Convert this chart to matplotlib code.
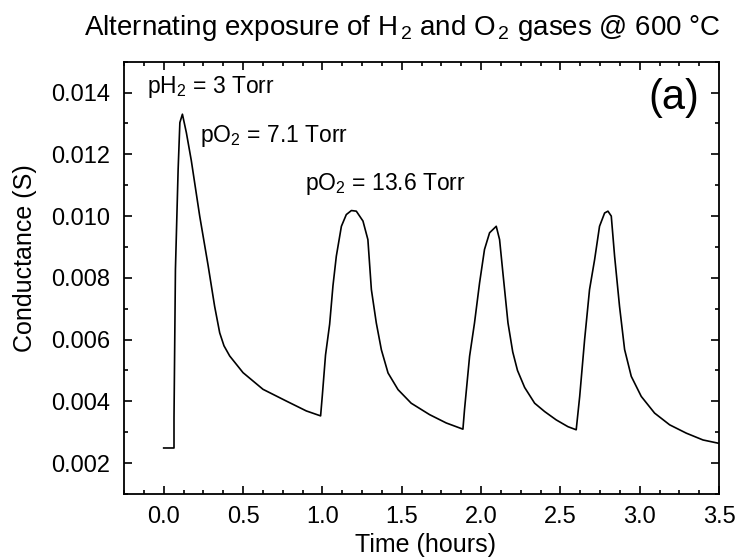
import matplotlib
matplotlib.use("Agg")
import matplotlib.pyplot as plt
from matplotlib.ticker import MultipleLocator, FormatStrFormatter

plt.rcParams['font.family'] = ['Liberation Sans', 'DejaVu Sans']
plt.rcParams['mathtext.fontset'] = 'custom'
plt.rcParams['mathtext.rm'] = 'Liberation Sans'
plt.rcParams['mathtext.it'] = 'Liberation Sans:italic'

# time (hours) and conductance (S)
time_h = [0.0, 0.065, 0.065, 0.074, 0.091, 0.102, 0.118, 0.143, 0.174, 0.227,
          0.280, 0.321, 0.353, 0.380, 0.416, 0.500, 0.626, 0.773, 0.899, 0.989,
          1.000, 1.020, 1.046, 1.067, 1.088, 1.120, 1.151, 1.183, 1.214, 1.256,
          1.287, 1.309, 1.340, 1.372, 1.414, 1.477, 1.560, 1.676, 1.781, 1.886,
          1.896, 1.928, 1.959, 1.991, 2.022, 2.054, 2.096, 2.117, 2.138, 2.170,
          2.200, 2.230, 2.275, 2.338, 2.401, 2.474, 2.548, 2.600,
          2.622, 2.653, 2.684, 2.716, 2.747, 2.779, 2.800, 2.821, 2.842, 2.873,
          2.905, 2.947, 3.010, 3.094, 3.189, 3.294, 3.399, 3.500]
conductance = [0.00249, 0.00249, 0.00346, 0.00827, 0.01151, 0.01303, 0.01330, 0.01270, 0.01180, 0.01000,
               0.00840, 0.00708, 0.00622, 0.00580, 0.00547, 0.00493, 0.00439, 0.00401, 0.00369, 0.00353,
               0.00420, 0.00550, 0.00650, 0.00775, 0.00870, 0.00967, 0.01005, 0.01018, 0.01016, 0.00984,
               0.00924, 0.00762, 0.00654, 0.00567, 0.00492, 0.00438, 0.00394, 0.00357, 0.00330, 0.00310,
               0.00373, 0.00546, 0.00654, 0.00784, 0.00892, 0.00946, 0.00967, 0.00924, 0.00816, 0.00654,
               0.00560, 0.00500, 0.00445, 0.00394, 0.00367, 0.00340, 0.00318, 0.00308,
               0.00416, 0.00600, 0.00762, 0.00859, 0.00967, 0.01010, 0.01016, 0.01000, 0.00870, 0.00708,
               0.00568, 0.00481, 0.00416, 0.00362, 0.00324, 0.00297, 0.00275, 0.00264]

fig = plt.figure(figsize=(7.44, 5.58), dpi=100)
ax = fig.add_axes([0.1667, 0.1147, 0.7997, 0.7747])
ax.plot(time_h, conductance, color='black', linewidth=1.2)

ax.set_xlim(-0.25, 3.5)
ax.set_ylim(0.001, 0.015)
ax.xaxis.set_major_locator(MultipleLocator(0.5))
ax.xaxis.set_minor_locator(MultipleLocator(0.125))
ax.xaxis.set_major_formatter(FormatStrFormatter('%.1f'))
ax.yaxis.set_major_locator(MultipleLocator(0.002))
ax.yaxis.set_minor_locator(MultipleLocator(0.001))
ax.yaxis.set_major_formatter(FormatStrFormatter('%.3f'))
ax.tick_params(which='both', direction='in', top=True, right=True, labelsize=17, width=1.2)
ax.tick_params(which='major', length=6)
ax.tick_params(which='minor', length=3)
ax.tick_params(axis='x', which='major', pad=9)
ax.tick_params(axis='y', which='major', pad=10)
for s in ax.spines.values():
    s.set_linewidth(1.3)

ax.set_xlabel('Time (hours)', fontsize=18)
ax.set_ylabel('Conductance (S)', fontsize=18)
ax.xaxis.set_label_coords(0.506, -0.090)
ax.yaxis.set_label_coords(-0.146, 0.546)

fig.text(0.541, 0.937, r'Alternating exposure of H$\mathregular{_{\,2}}$ and O$\mathregular{_{\,2}}$ gases @ 600 °C',
         ha='center', va='baseline', fontsize=20)

ax.text(-0.107, 0.0140, r'pH$\mathregular{_2}$ = 3 Torr', fontsize=16.5, va='baseline')
ax.text(0.227, 0.01239, r'pO$\mathregular{_2}$ = 7.1 Torr', fontsize=16.5, va='baseline')
ax.text(0.888, 0.01084, r'pO$\mathregular{_2}$ = 13.6 Torr', fontsize=16.5, va='baseline')
ax.text(3.377, 0.01346, '(a)', fontsize=30, ha='right', va='baseline')

fig.savefig('out.png', dpi=100)
